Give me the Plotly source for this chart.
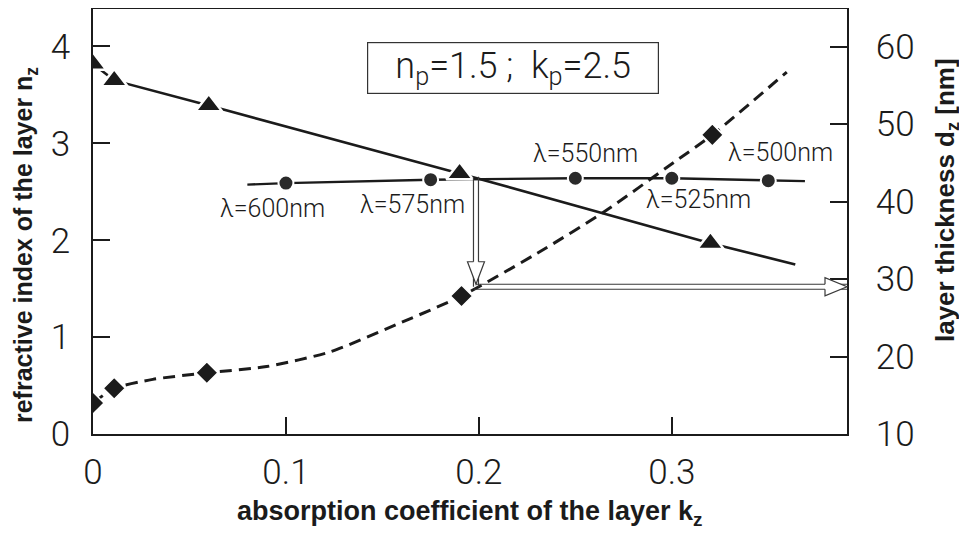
import plotly.graph_objects as go

# ---------------- data ----------------
# refractive index n_z (triangles, left axis)
k_tri = [0.0, 0.011, 0.06, 0.19, 0.32]
n_tri = [3.82, 3.65, 3.39, 2.69, 1.97]
k_tri_end = 0.364
n_tri_end = 1.75

# wavelength line (circles, left axis)
k_lam = [0.10, 0.175, 0.25, 0.30, 0.35]
n_lam = [2.59, 2.625, 2.64, 2.64, 2.615]
lam_labels = ["λ=600nm", "λ=575nm", "λ=550nm", "λ=525nm", "λ=500nm"]
k_lam_start, n_lam_start = 0.080, 2.574
k_lam_end, n_lam_end = 0.369, 2.61

# layer thickness d_z (diamonds, right axis)
k_dia = [0.0, 0.011, 0.059, 0.191, 0.321]
d_dia = [14.0, 15.9, 17.9, 27.8, 48.6]
# dashed curve
k_curve = [0.0, 0.011, 0.031, 0.059, 0.090, 0.123, 0.157, 0.191, 0.2335, 0.2663, 0.3008, 0.321, 0.3596]
d_curve = [14.0, 15.9, 17.05, 17.9, 18.7, 20.6, 24.1, 27.8, 33.8, 38.9, 45.0, 48.6, 56.7]

# reading arrows
arrow_k = 0.1985
arrow_top_d = 43.2
arrow_d = 29.0

x_ticks = [0, 0.1, 0.2, 0.3]
x_ticklabels = ["0", "0.1", "0.2", "0.3"]
n_ticks = [0, 1, 2, 3, 4]
d_ticks = [10, 20, 30, 40, 50, 60]

x_range = [0, 0.3908]
n_range = [0, 4.387]
d_range = [10, 64.84]

# ---------------- styling ----------------
THIN = "Roboto, Liberation Sans, sans-serif"
BOLD = "Liberation Sans, Arial, sans-serif"
INK = "#1b1b1b"

fig = go.Figure()

# dashed thickness curve
fig.add_trace(go.Scatter(x=k_curve, y=d_curve, yaxis="y2", mode="lines",
                         line=dict(color=INK, width=3, dash="12px,7px", shape="spline", smoothing=0.6),
                         hoverinfo="skip"))
fig.add_trace(go.Scatter(x=k_dia, y=d_dia, yaxis="y2", mode="markers",
                         marker=dict(symbol="diamond", size=17, color=INK,
                                     line=dict(color="white", width=1.5))))

# refractive index line
fig.add_trace(go.Scatter(x=k_tri + [k_tri_end], y=n_tri + [n_tri_end], mode="lines",
                         line=dict(color=INK, width=2.6), hoverinfo="skip"))

# wavelength line
fig.add_trace(go.Scatter(x=[k_lam_start] + k_lam + [k_lam_end],
                         y=[n_lam_start] + n_lam + [n_lam_end], mode="lines",
                         line=dict(color=INK, width=2.4), hoverinfo="skip"))
fig.add_trace(go.Scatter(x=k_lam, y=n_lam, mode="markers",
                         marker=dict(symbol="circle", size=15, color="#2a2a2a",
                                     line=dict(color="white", width=2))))

fig.add_trace(go.Scatter(x=k_tri, y=n_tri, mode="markers",
                         marker=dict(symbol="triangle-up", size=23, color=INK,
                                     line=dict(color="white", width=2.5))))

# wavelength labels
offsets = [(-13, -25), (-18, -25), (10, 25), (27, -21), (12, 28)]
for k, n, t, (dx, dy) in zip(k_lam, n_lam, lam_labels, offsets):
    fig.add_annotation(x=k, y=n, xref="x", yref="y", text=t, showarrow=False,
                       xshift=dx, yshift=dy,
                       font=dict(family=THIN, size=25, color=INK, weight=300))

# parameter box
fig.add_annotation(x=0.2178, y=3.78, xref="x", yref="y",
                   text="n<sub>p</sub>=1.5 ;  k<sub>p</sub>=2.5", showarrow=False,
                   font=dict(family=THIN, size=36, color=INK, weight=300),
                   bordercolor="#333", borderwidth=1.2, borderpad=2,
                   width=286, height=46, bgcolor="white")

# axis titles
fig.add_annotation(x=0.5, y=-0.186, xref="paper", yref="paper",
                   xanchor="center", yanchor="middle",
                   text="<b>absorption coefficient of the layer k<sub>z</sub></b>",
                   showarrow=False, font=dict(family=BOLD, size=27, color=INK))
fig.add_annotation(x=-0.090, y=0.445, xref="paper", yref="paper", textangle=-90,
                   xanchor="center", yanchor="middle",
                   text="<b>refractive index of the layer n<sub>z</sub></b>",
                   showarrow=False, font=dict(family=BOLD, size=25, color=INK))
fig.add_annotation(x=1.131, y=0.55, xref="paper", yref="paper", textangle=-90,
                   xanchor="center", yanchor="middle",
                   text="<b>layer thickness d<sub>z</sub> [nm]</b>",
                   showarrow=False, font=dict(family=BOLD, size=26, color=INK))

# reading arrows (hollow double-line arrows)
ARW = dict(color="#3a3a3a", width=1.2)
shapes = [
    dict(type="path", xref="x", yref="y2", xsizemode="pixel", xanchor=arrow_k,
         path=f"M -2.5,{arrow_top_d} L -2.5,{arrow_d} M 2.5,{arrow_top_d} L 2.5,{arrow_d}",
         line=ARW),
    dict(type="path", xref="x", yref="y2", ysizemode="pixel", yanchor=arrow_d,
         path=f"M {arrow_k},2.5 L {x_range[1]},2.5 M {arrow_k - 0.001},-2.5 L {x_range[1]},-2.5",
         line=ARW),
    dict(type="path", xref="x", yref="y2", xsizemode="pixel", ysizemode="pixel",
         xanchor=arrow_k, yanchor=arrow_d,
         path="M -8.5,25 L 0,2.5 L 8.5,25 Z", fillcolor="white", line=dict(width=0)),
    dict(type="path", xref="x", yref="y2", xsizemode="pixel", ysizemode="pixel",
         xanchor=arrow_k, yanchor=arrow_d,
         path="M -2.5,25 L -8.5,25 L 0,2.5 L 8.5,25 L 2.5,25", line=ARW),
    dict(type="path", xref="paper", yref="y2", xsizemode="pixel", ysizemode="pixel",
         xanchor=1, yanchor=arrow_d,
         path="M -22,9 L 0,0 L -22,-9 Z", fillcolor="white", line=dict(width=0)),
    dict(type="path", xref="paper", yref="y2", xsizemode="pixel", ysizemode="pixel",
         xanchor=1, yanchor=arrow_d,
         path="M -22,2.5 L -22,9 L 0,0 L -22,-9 L -22,-2.5", line=ARW),
]

axis_common = dict(showgrid=False, zeroline=False, ticks="inside", ticklen=17,
                   tickwidth=1.5, tickcolor=INK, showline=True, linecolor=INK,
                   linewidth=1.6, automargin=False,
                   tickfont=dict(family=THIN, size=35, color=INK, weight=300))

# the page body adds an 8px offset, so the figure is 8px smaller and shifted
fig.update_layout(
    width=959, height=528,
    margin=dict(l=85, r=120, t=1, b=102, autoexpand=False),
    paper_bgcolor="white", plot_bgcolor="white",
    showlegend=False,
    shapes=shapes,
    xaxis=dict(range=x_range, tickvals=x_ticks, ticktext=x_ticklabels, mirror=True,
               ticklabelstandoff=6, **axis_common),
    yaxis=dict(range=n_range, tickvals=n_ticks, ticklabelstandoff=14, **axis_common),
    yaxis2=dict(range=d_range, tickvals=d_ticks, overlaying="y", side="right",
                ticklabelstandoff=20, **axis_common),
)

fig.write_html("out.html")
